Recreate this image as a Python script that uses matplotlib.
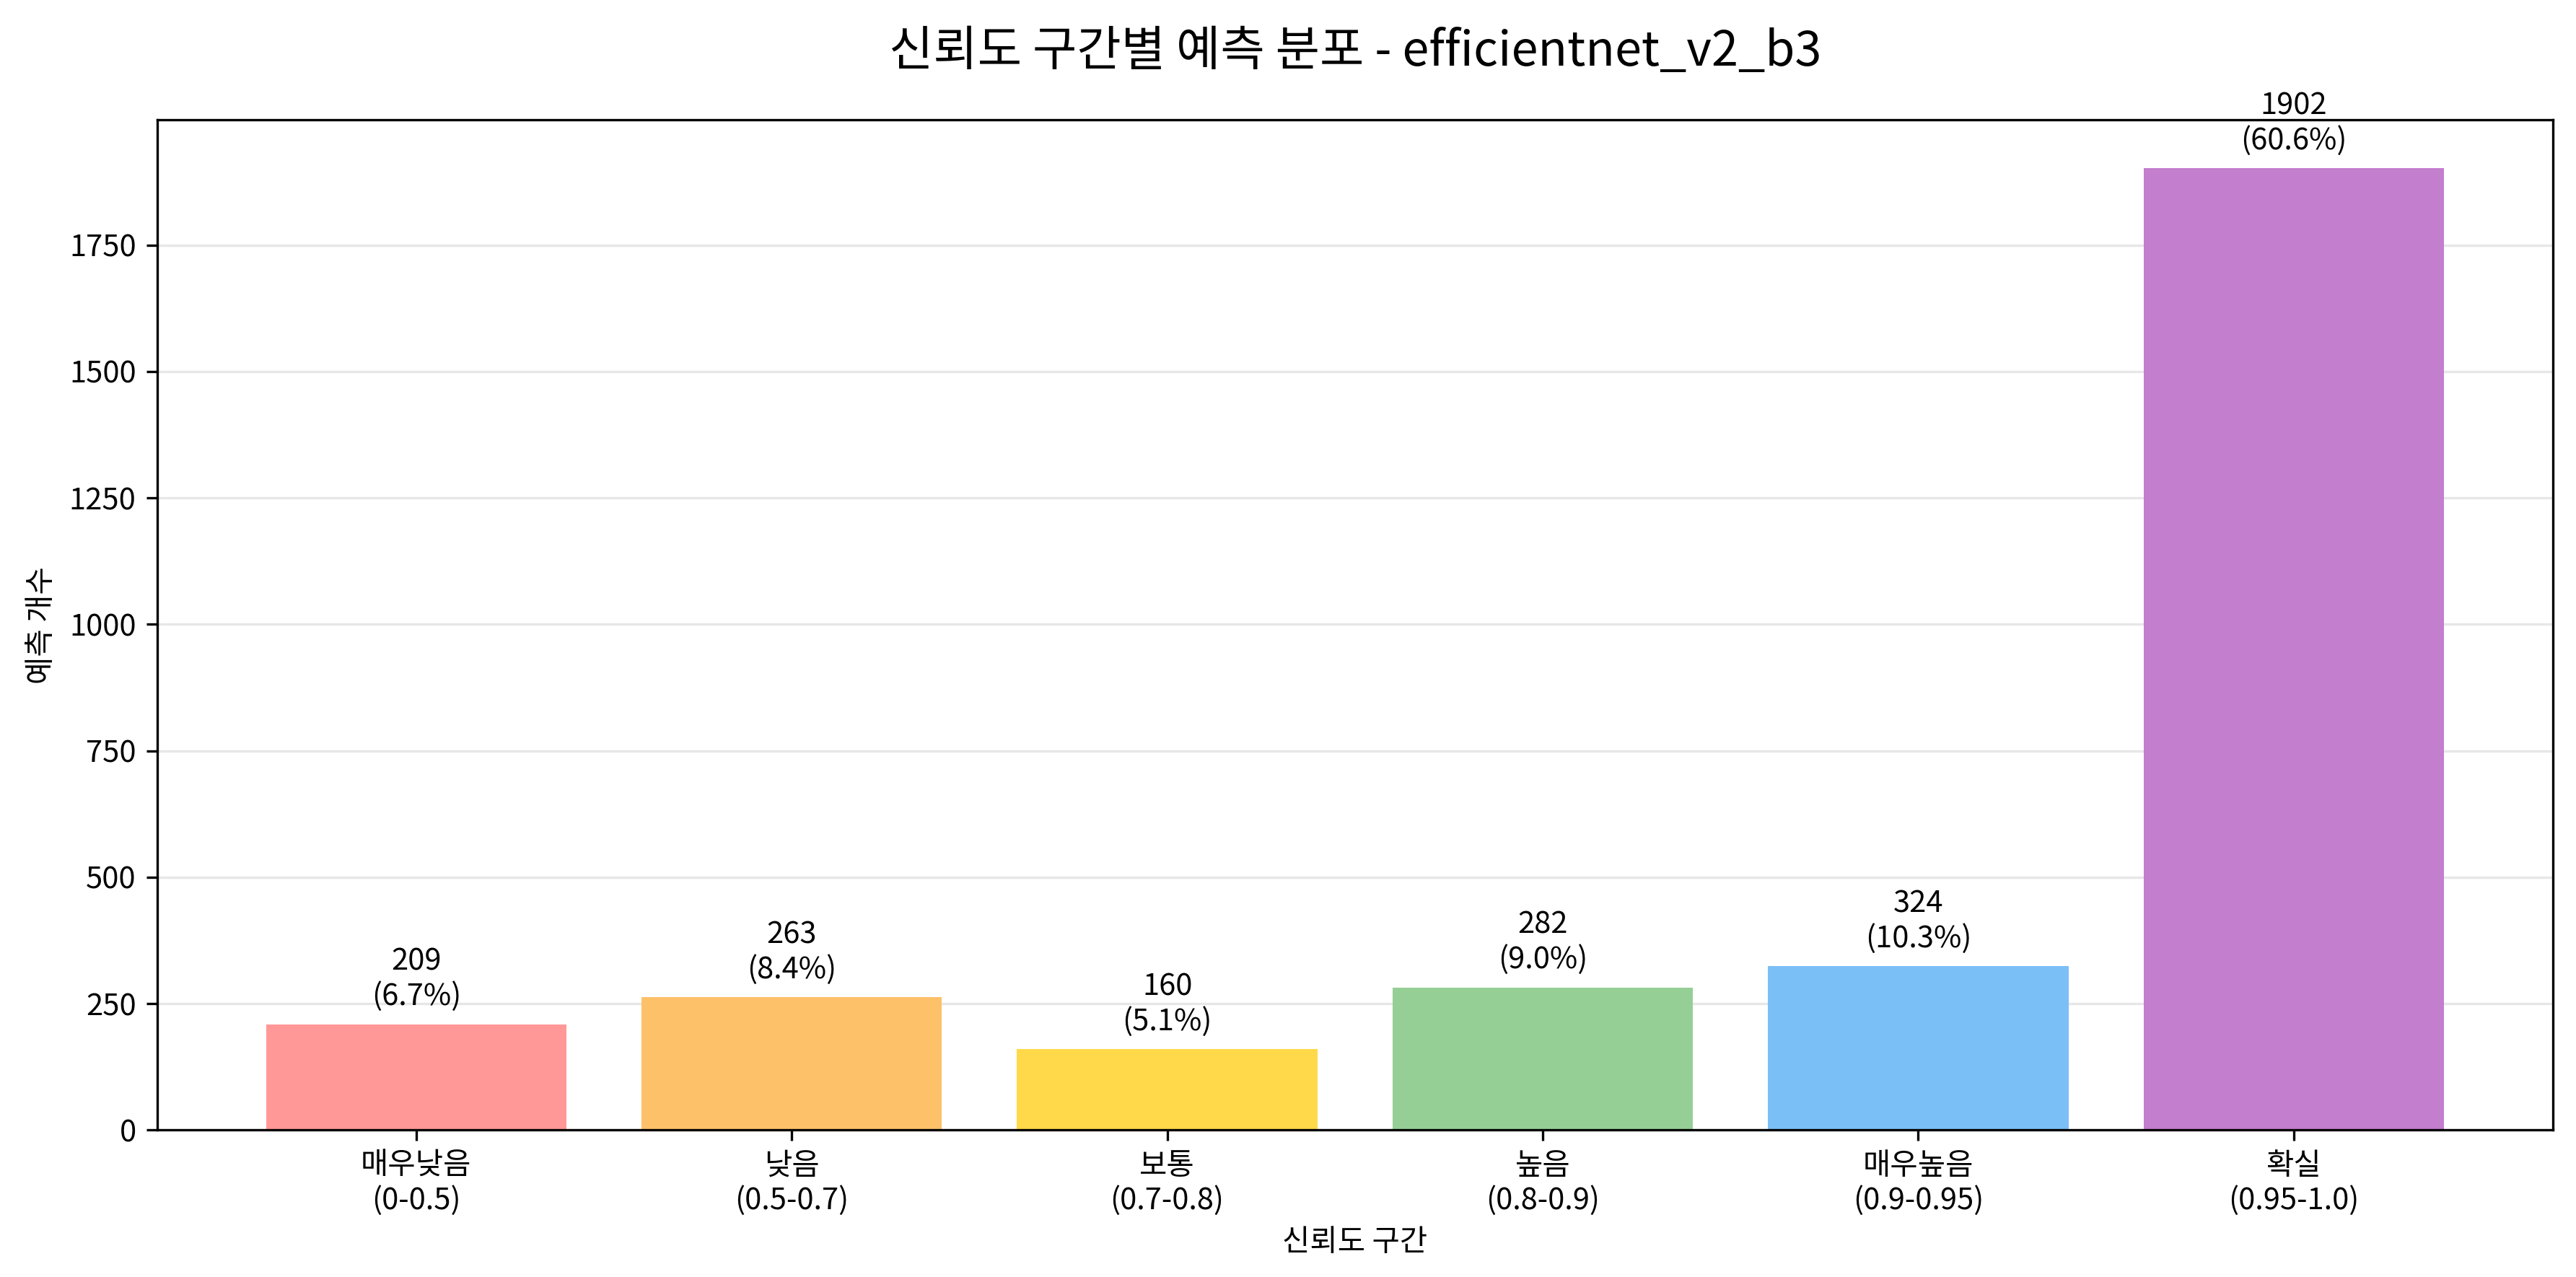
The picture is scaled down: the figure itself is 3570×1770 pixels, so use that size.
import numpy as np
import matplotlib
matplotlib.use("Agg")
import matplotlib.pyplot as plt

plt.rcParams['font.family'] = ['Noto Sans CJK KR', 'DejaVu Sans']

MODEL_NAME = "efficientnet_v2_b3"

bin_names = ["매우낮음", "낮음", "보통", "높음", "매우높음", "확실"]
bin_ranges = ["(0-0.5)", "(0.5-0.7)", "(0.7-0.8)", "(0.8-0.9)", "(0.9-0.95)", "(0.95-1.0)"]
counts = [209, 263, 160, 282, 324, 1902]
bar_colors = ["#ff9896", "#fdc16a", "#ffd94a", "#96cf96", "#7bbff7", "#c47ece"]

total = sum(counts)
labels = [f"{n}\n{r}" for n, r in zip(bin_names, bin_ranges)]
x = np.arange(len(counts))

fig, ax = plt.subplots(figsize=(11.9, 5.9), dpi=300)

bars = ax.bar(x, counts, width=0.8, color=bar_colors)

for bar, c in zip(bars, counts):
    ax.text(
        bar.get_x() + bar.get_width() / 2,
        bar.get_height() + 25,
        f"{c}\n({c / total * 100:.1f}%)",
        ha="center",
        va="bottom",
        fontsize=10
    )

ax.set_xticks(x)
ax.set_xticklabels(labels, fontsize=10)
ax.tick_params(axis="y", labelsize=10)
ax.set_ylim(0, max(counts) * 1.05)
ax.set_xlabel("신뢰도 구간", fontsize=10)
ax.set_ylabel("예측 개수", fontsize=10)
ax.set_title(f"신뢰도 구간별 예측 분포 - {MODEL_NAME}", fontsize=16, pad=18)
ax.grid(axis="y", alpha=0.3)
ax.set_axisbelow(True)

plt.subplots_adjust(left=0.061, right=0.991, top=0.906, bottom=0.115)
plt.savefig("out.png", dpi=300)
plt.close()
